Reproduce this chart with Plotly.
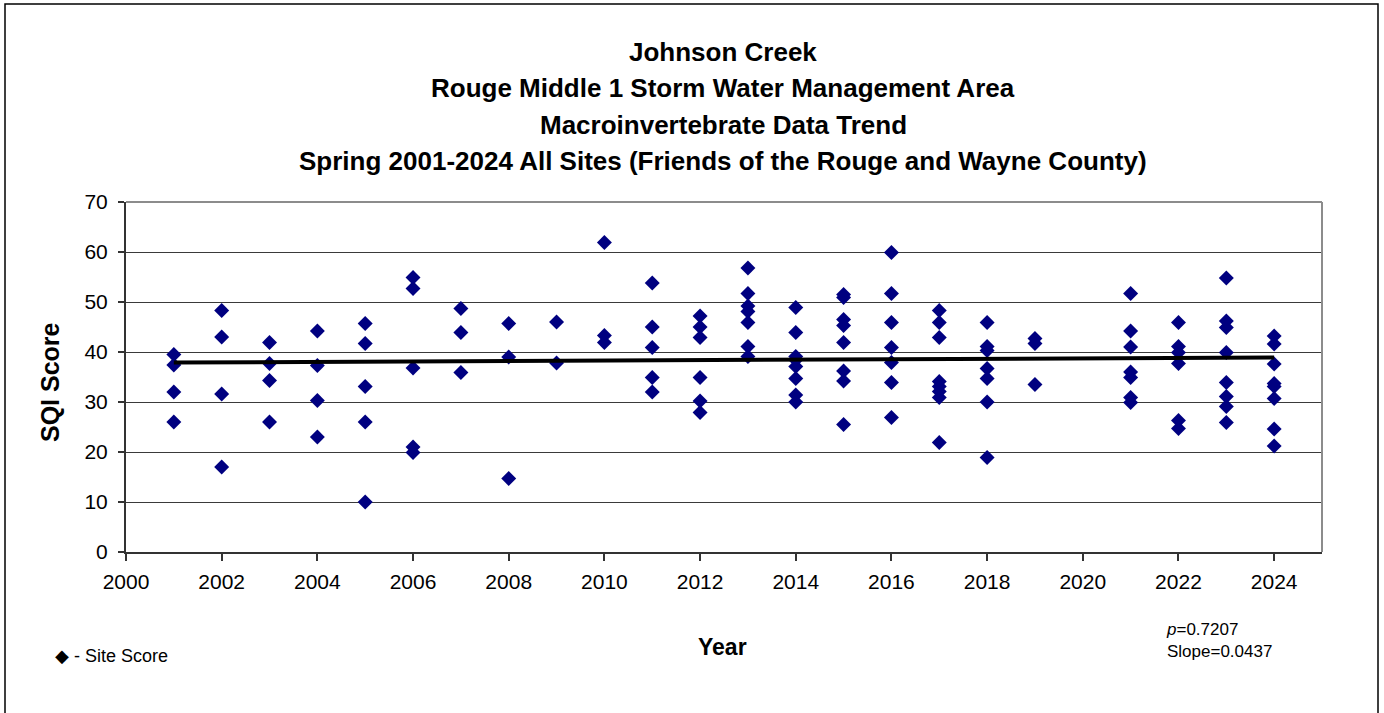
import plotly.graph_objects as go

# ---- data ----
years = [2001, 2002, 2003, 2004, 2005, 2006, 2007, 2008, 2009, 2010, 2011, 2012,
         2013, 2014, 2015, 2016, 2017, 2018, 2019, 2021, 2022, 2023, 2024]
scores_by_year = [
    [39.5, 37.4, 32.0, 26.0],                              # 2001
    [48.3, 43.0, 31.6, 17.0],                              # 2002
    [41.9, 37.7, 34.3, 26.0],                              # 2003
    [44.2, 37.3, 30.3, 23.0],                              # 2004
    [45.7, 41.7, 33.1, 26.0, 10.0],                        # 2005
    [54.9, 52.7, 36.8, 21.0, 19.9],                        # 2006
    [48.7, 43.9, 35.9],                                    # 2007
    [45.7, 39.0, 14.7],                                    # 2008
    [46.0, 37.8],                                          # 2009
    [61.9, 43.3, 41.9],                                    # 2010
    [53.8, 45.0, 40.9, 34.9, 32.0],                        # 2011
    [47.2, 45.0, 42.9, 34.9, 30.2, 27.9],                  # 2012
    [56.8, 51.7, 49.2, 48.1, 45.9, 41.1, 39.1],            # 2013
    [48.9, 43.9, 39.1, 38.4, 37.1, 34.7, 31.4, 30.0],      # 2014
    [51.5, 50.9, 46.5, 45.3, 41.9, 36.2, 34.2, 25.5],      # 2015
    [59.9, 51.7, 45.9, 40.9, 37.9, 33.9, 26.9],            # 2016
    [48.3, 45.9, 42.9, 34.1, 33.1, 32.1, 30.9, 21.9],      # 2017
    [45.9, 41.1, 40.3, 36.7, 34.7, 30.0, 18.9],            # 2018
    [42.7, 41.7, 33.5],                                    # 2019
    [51.7, 44.2, 41.0, 36.0, 34.9, 30.9, 29.9],            # 2021
    [45.9, 41.1, 39.9, 37.7, 26.3, 24.7],                  # 2022
    [54.8, 46.2, 44.9, 39.9, 33.9, 31.1, 29.1, 25.9],      # 2023
    [43.2, 41.6, 37.6, 33.7, 33.1, 30.7, 24.6, 21.2],      # 2024
]
trend_years = [2001, 2024]
trend_values = [37.9, 38.9]
x_tick_values = list(range(2000, 2025, 2))
y_tick_values = list(range(0, 71, 10))

title_lines = [
    "Johnson Creek",
    "Rouge Middle 1 Storm Water Management Area",
    "Macroinvertebrate Data Trend",
    "Spring 2001-2024 All Sites (Friends of the Rouge and Wayne County)",
]
x_title = "Year"
y_title = "SQI Score"
stats_text = "<i>p</i>=0.7207<br>Slope=0.0437"
legend_text = "◆ - Site Score"

# ---- flatten points ----
pt_x, pt_y = [], []
for yr, vals in zip(years, scores_by_year):
    for v in vals:
        pt_x.append(yr)
        pt_y.append(v)

# ---- geometry (pixels) ----
W, H = 1384, 713
L, R, T, B = 126, 62, 202, 161
pw, ph = W - L - R, H - T - B

def px_x(px):
    return (px - L) / pw

def px_y(py):
    return (H - B - py) / ph

SANS = "Liberation Sans, Arial, sans-serif"

fig = go.Figure()
fig.add_trace(go.Scatter(
    x=pt_x, y=pt_y, mode="markers",
    marker=dict(symbol="diamond", size=11.5, color="#000080"),
    showlegend=False, hoverinfo="x+y",
))
fig.add_trace(go.Scatter(
    x=trend_years, y=trend_values, mode="lines",
    line=dict(color="black", width=4),
    showlegend=False, hoverinfo="skip",
))

annotations = []
for line, cy in zip(title_lines, [52, 88, 125, 161]):
    annotations.append(dict(
        text=f"<b>{line}</b>", x=px_x(723), y=px_y(cy), xref="paper", yref="paper",
        xanchor="center", yanchor="middle", showarrow=False,
        font=dict(family=SANS, size=26, color="black"),
    ))
annotations.append(dict(
    text=f"<b>{x_title}</b>", x=px_x(722), y=px_y(647), xref="paper", yref="paper",
    xanchor="center", yanchor="middle", showarrow=False,
    font=dict(family=SANS, size=23, color="black"),
))
annotations.append(dict(
    text=f"<b>{y_title}</b>", x=px_x(50), y=px_y(382), xref="paper", yref="paper",
    xanchor="center", yanchor="middle", showarrow=False, textangle=-90,
    font=dict(family=SANS, size=25, color="black"),
))
annotations.append(dict(
    text=legend_text, x=px_x(53), y=px_y(656), xref="paper", yref="paper",
    xanchor="left", yanchor="middle", showarrow=False,
    font=dict(family=SANS, size=18, color="black"),
))
annotations.append(dict(
    text=stats_text, x=px_x(1164), y=px_y(640), xref="paper", yref="paper",
    xanchor="left", yanchor="middle", showarrow=False, align="left",
    font=dict(family=SANS, size=17, color="black"),
))

fig.update_layout(
    width=W, height=H,
    margin=dict(l=L, r=R, t=T, b=B, pad=0),
    paper_bgcolor="white", plot_bgcolor="white",
    annotations=annotations,
    shapes=[
        # outer chart frame
        dict(type="rect", xref="paper", yref="paper",
             x0=px_x(5), x1=px_x(1378), y0=px_y(725), y1=px_y(4),
             line=dict(color="black", width=1.5), layer="below"),
        # plot area top/right border (grey)
        dict(type="line", xref="paper", yref="paper", x0=0, x1=1, y0=1, y1=1,
             line=dict(color="#8c8c8c", width=2)),
        dict(type="line", xref="paper", yref="paper", x0=1, x1=1, y0=0, y1=1,
             line=dict(color="#8c8c8c", width=2)),
    ],
    xaxis=dict(
        range=[2000, 2025], tickvals=x_tick_values, ticktext=[str(v) for v in x_tick_values],
        showgrid=False, zeroline=False,
        showline=True, linecolor="#333333", linewidth=2,
        ticks="outside", ticklen=7, tickcolor="#333333", tickwidth=1.5,
        ticklabelstandoff=3,
        tickfont=dict(family=SANS, size=21, color="black"),
    ),
    yaxis=dict(
        range=[0, 70], tickvals=y_tick_values,
        showgrid=True, gridcolor="#3a3a3a", gridwidth=1.2, zeroline=False,
        showline=True, linecolor="#333333", linewidth=2,
        ticks="outside", ticklen=6, tickcolor="#333333", tickwidth=1.5,
        ticklabelstandoff=6,
        tickfont=dict(family=SANS, size=21, color="black"),
    ),
)

fig.write_html("out.html", config={"displayModeBar": False},
               post_script="document.body.style.margin='0';")
